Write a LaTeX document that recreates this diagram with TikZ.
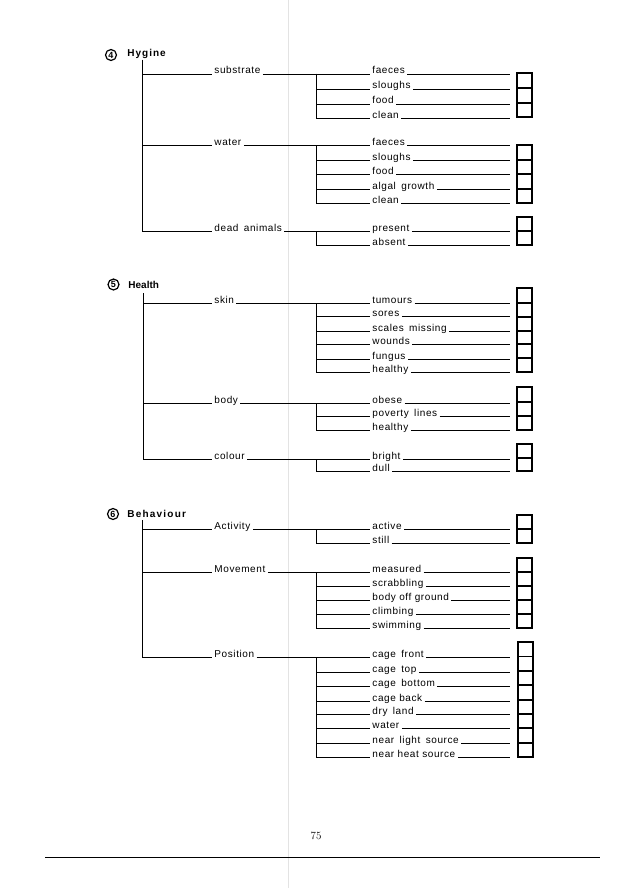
\documentclass[tikz,border=0pt]{standalone}
\usepackage{fontspec}
\newfontfamily\labfont{Liberation Sans}[LetterSpace=6]
\newfontfamily\hdfont{Liberation Sans}
\newcommand\mkgroup[5]{%
  \node[lab] (#1) at (214,#2) {#3};
  \draw (#5) |- ([xshift=-2pt]#1.base west);
  \foreach \yy/\tx [count=\i] in {#4} {
    \node[lab] (#1-\i) at (372,\yy) {\tx};
    \coordinate (#1-\i e) at (510,\yy);
    \ifnum\i=1
      \draw ([xshift=2pt]#1.base east) -- ([xshift=-2pt]#1-\i.base west);
    \else
      \draw (316,#2) |- ([xshift=-2pt]#1-\i.base west);
    \fi
    \draw ([xshift=2pt]#1-\i.base east) -- (#1-\i e);
  }%
}
\newcommand\mkboxes[2]{%
  \foreach \a/\b in {#2} {\draw[boxline] (#1,\a) rectangle (#1+15,\b);}%
}
\begin{document}
\begin{tikzpicture}[x=1pt,y=-1pt,line width=0.9pt,
  lab/.style={font=\labfont\fontsize{10}{12}\selectfont,inner sep=0pt,anchor=base west},
  hd/.style={font=\hdfont\bfseries\fontsize{10}{12}\selectfont,inner sep=0pt,anchor=base west},
  num/.style={circle,draw,line width=1.2pt,inner sep=0pt,minimum size=11pt,font=\hdfont\bfseries\fontsize{9}{9}\selectfont},
  boxline/.style={line width=1.1pt}]
\useasboundingbox (0,0) rectangle (621,888);
\fill[white] (0,0) rectangle (621,888);
\draw[gray!22,line width=0.6pt] (288,0) -- (288,888);

% ---- 4 Hygine
\node[num] (c4) at (111,55) {4};
\node[hd] (t4) at (127,57) {\addfontfeature{LetterSpace=10}Hygine};
\coordinate (m4) at (142,60);
\mkgroup{sb}{74}{substrate}{74/faeces,89/sloughs,104/food,118/clean}{m4}
\mkgroup{wt}{145}{water}{145/faeces,160/sloughs,174/food,189/algal\hspace{2pt} growth,203/clean}{m4}
\mkgroup{da}{231}{dead\hspace{2pt} animals}{231/present,245/absent}{m4}
\mkboxes{517}{73/88,88/103,103/117}
\mkboxes{517}{145/160,160/174,174/189,189/203}
\mkboxes{517}{217/231,231/245}

% ---- 5 Health
\node[num] (c5) at (113.5,284.5) {5};
\node[hd] (t5) at (128,288) {Health};
\coordinate (m5) at (143,293);
\mkgroup{sk}{303}{skin}{303/tumours,316/sores,331/scales\hspace{2pt} missing,344/wounds,359/fungus,372/healthy}{m5}
\mkgroup{bd}{403}{body}{403/obese,416/poverty\hspace{2pt} lines,430/healthy}{m5}
\mkgroup{cl}{459}{colour}{459/bright,471/dull}{m5}
\mkboxes{517}{288/303,303/317,317/331,331/344,344/358,358/372}
\mkboxes{517}{387/402,402/416,416/430}
\mkboxes{517}{444/458,458/471}

% ---- 6 Behaviour
\node[num] (c6) at (113,514) {6};
\node[hd] (t6) at (127,517) {\addfontfeature{LetterSpace=12}Behaviour};
\coordinate (m6) at (142,520);
\mkgroup{ac}{529}{Activity}{529/active,543/still}{m6}
\mkgroup{mv}{572}{Movement}{572/measured,586/scrabbling,600/body off ground,614/climbing,628/swimming}{m6}
\mkgroup{ps}{657}{Position}{657/cage\hspace{2pt} front,672/cage\hspace{2pt} top,686/cage\hspace{2pt} bottom,701/cage back,714/dry\hspace{2pt} land,728/water,743/near\hspace{2pt} light\hspace{2pt} source,757/near heat source}{m6}
\mkboxes{517}{515/529,529/543}
\mkboxes{517}{558/572,572/586,586/600,600/614,614/628}
\mkboxes{518}{642/656.5,656.5/671,671/685,685/700,700/714,714/728,728/743,743/757}

% ---- page number and rule
\node[font=\fontsize{11}{13}\selectfont] (pg) at (316,836) {75};
\coordinate (rl) at (45,857);
\coordinate (rr) at (600,857);
\draw[line width=0.8pt] (rl) -- (rr);
\end{tikzpicture}
\end{document}
